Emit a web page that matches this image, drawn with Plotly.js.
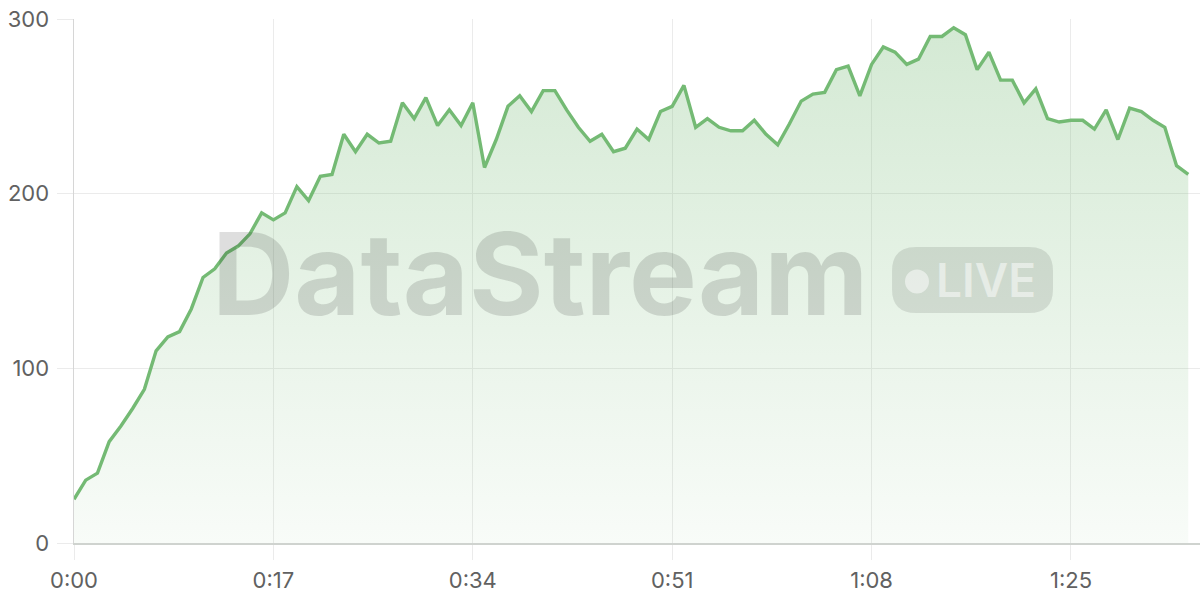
<!DOCTYPE html>
<html>
<head>
<meta charset="utf-8">
<script src="https://cdn.plot.ly/plotly-3.0.1.min.js"></script>
<style>
  html, body { margin: 0; padding: 0; background: #ffffff; }
  #chart { width: 1200px; height: 600px; }
</style>
</head>
<body>
<div id="chart"></div>
<script>
// Elapsed time in seconds
const seconds = [
  0, 1, 2, 3, 4, 5, 6, 7, 8, 9,
  10, 11, 12, 13, 14, 15, 16, 17, 18, 19,
  20, 21, 22, 23, 24, 25, 26, 27, 28, 29,
  30, 31, 32, 33, 34, 35, 36, 37, 38, 39,
  40, 41, 42, 43, 44, 45, 46, 47, 48, 49,
  50, 51, 52, 53, 54, 55, 56, 57, 58, 59,
  60, 61, 62, 63, 64, 65, 66, 67, 68, 69,
  70, 71, 72, 73, 74, 75, 76, 77, 78, 79,
  80, 81, 82, 83, 84, 85, 86, 87, 88, 89,
  90, 91, 92, 93, 94, 95
];
// Stream values
const values = [
  25, 36, 40, 58, 67, 77, 88, 110, 118, 121,
  134, 152, 157, 166, 170, 177, 189, 185, 189, 204,
  196, 210, 211, 234, 224, 234, 229, 230, 252, 243,
  255, 239, 248, 239, 252, 215, 231, 250, 256, 247,
  259, 259, 248, 238, 230, 234, 224, 226, 237, 231,
  247, 250, 262, 238, 243, 238, 236, 236, 242, 234,
  228, 240, 253, 257, 258, 271, 273, 256, 274, 284,
  281, 274, 277, 290, 290, 295, 291, 271, 281, 265,
  265, 252, 260, 243, 241, 242, 242, 237, 248, 231,
  249, 247, 242, 238, 216, 211
];
const xTickVals = [0, 17, 34, 51, 68, 85];
const xTickText = ['0:00', '0:17', '0:34', '0:51', '1:08', '1:25'];
const yTickVals = [0, 100, 200, 300];
const yTickText = ['0', '100', '200', '300'];

const W = 1200, H = 600;
const M = { l: 74, r: 0, t: 19, b: 57 };
const PW = W - M.l - M.r, PH = H - M.t - M.b;
const fx = px => (px - M.l) / PW;
const fy = py => (H - M.b - py) / PH;

function roundedRect(x0, y0, x1, y1, r) {
  const p = (x, y) => fx(x).toFixed(5) + ',' + fy(y).toFixed(5);
  return 'M' + p(x0 + r, y0) +
    ' L' + p(x1 - r, y0) + ' Q' + p(x1, y0) + ' ' + p(x1, y0 + r) +
    ' L' + p(x1, y1 - r) + ' Q' + p(x1, y1) + ' ' + p(x1 - r, y1) +
    ' L' + p(x0 + r, y1) + ' Q' + p(x0, y1) + ' ' + p(x0, y1 - r) +
    ' L' + p(x0, y0 + r) + ' Q' + p(x0, y0) + ' ' + p(x0 + r, y0) + ' Z';
}

const lineColor = '#74ba74';

const trace = {
  type: 'scatter',
  mode: 'lines',
  x: seconds,
  y: values,
  line: { color: lineColor, width: 3.4 },
  fill: 'tozeroy',
  fillgradient: {
    type: 'vertical',
    start: 0,
    stop: 300,
    colorscale: [[0, 'rgba(118,186,118,0.05)'], [1, 'rgba(118,186,118,0.32)']]
  },
  hoverinfo: 'skip'
};

const tickFont = { family: 'Inter, "DejaVu Sans", sans-serif', size: 22, color: '#616161' };

const layout = {
  width: W, height: H,
  margin: M,
  paper_bgcolor: '#ffffff',
  plot_bgcolor: '#ffffff',
  showlegend: false,
  xaxis: {
    range: [0, 96],
    tickmode: 'array',
    tickvals: xTickVals,
    ticktext: xTickText,
    showgrid: true,
    gridcolor: '#ebebeb',
    gridwidth: 1,
    zeroline: false,
    showline: true,
    linecolor: '#cfd3cf',
    linewidth: 2,
    ticks: 'outside',
    ticklen: 15,
    tickcolor: '#ebebeb',
    tickwidth: 1,
    tickfont: tickFont,
    ticklabelstandoff: 2,
    fixedrange: true
  },
  yaxis: {
    range: [0, 300],
    tickmode: 'array',
    tickvals: yTickVals,
    ticktext: yTickText,
    showgrid: true,
    gridcolor: '#ebebeb',
    gridwidth: 1,
    zeroline: false,
    showline: true,
    linecolor: '#d6d6d6',
    linewidth: 1.5,
    ticks: 'outside',
    ticklen: 16,
    tickcolor: '#ebebeb',
    tickwidth: 1,
    tickfont: tickFont,
    ticklabelstandoff: 3,
    fixedrange: true
  },
  shapes: [
    {
      type: 'path', xref: 'paper', yref: 'paper', layer: 'above',
      path: roundedRect(892, 247, 1053, 313, 24),
      fillcolor: 'rgba(0,0,0,0.1)', line: { width: 0 }
    },
    {
      type: 'circle', xref: 'paper', yref: 'paper', layer: 'above',
      x0: fx(905), x1: fx(929), y0: fy(293.5), y1: fy(269.5),
      fillcolor: 'rgba(255,255,255,0.5)', line: { width: 0 }
    }
  ],
  annotations: [
    {
      xref: 'paper', yref: 'paper',
      x: fx(540), y: fy(273), xanchor: 'center', yanchor: 'middle',
      text: 'DataStream', showarrow: false,
      font: { family: 'Inter, "DejaVu Sans", sans-serif', size: 114, weight: 700, color: 'rgba(0,0,0,0.13)' }
    },
    {
      xref: 'paper', yref: 'paper',
      x: fx(986), y: fy(280), xanchor: 'center', yanchor: 'middle',
      text: 'LIVE', showarrow: false,
      font: { family: 'Inter, "DejaVu Sans", sans-serif', size: 46, weight: 600, color: 'rgba(255,255,255,0.5)' }
    }
  ]
};

Plotly.newPlot('chart', [trace], layout, { displayModeBar: false, staticPlot: true });
</script>
</body>
</html>
